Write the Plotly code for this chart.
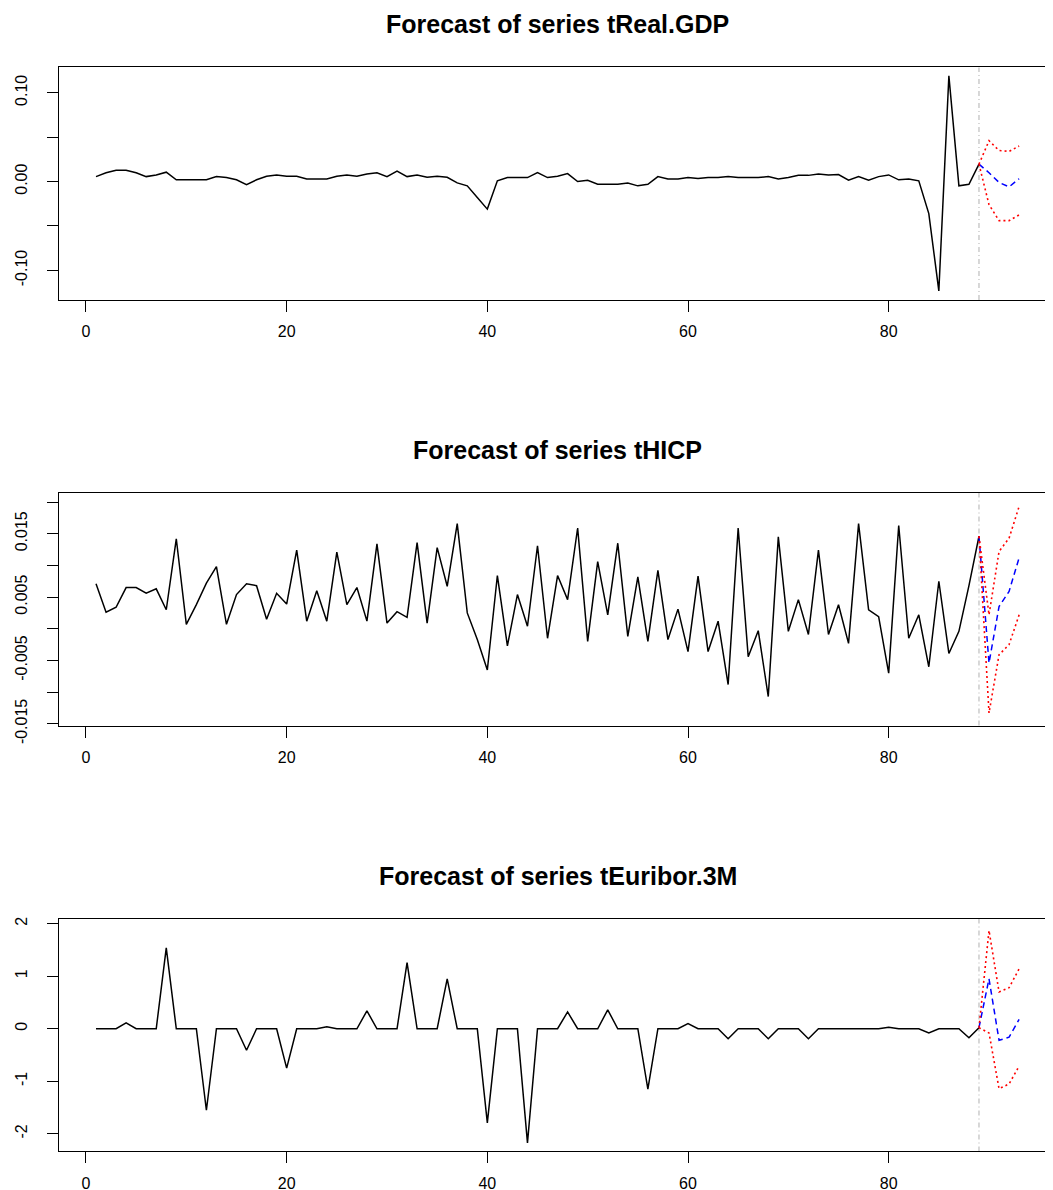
import plotly.graph_objects as go
from plotly.subplots import make_subplots

# ---------------- data ----------------
t_obs = list(range(1, 90))
t_fc = [89, 90, 91, 92, 93]

gdp = [0.0056, 0.010, 0.0128, 0.0128, 0.010, 0.0056, 0.0075, 0.0106, 0.002, 0.002,
       0.002, 0.002, 0.0056, 0.0045, 0.002, -0.0034, 0.002, 0.006, 0.0075, 0.006,
       0.006, 0.003, 0.003, 0.003, 0.006, 0.0075, 0.006, 0.0086, 0.010, 0.0056,
       0.0117, 0.0056, 0.0075, 0.0048, 0.006, 0.0048, -0.0015, -0.0048, -0.018, -0.031,
       0.0008, 0.0045, 0.0045, 0.0045, 0.010, 0.0045, 0.006, 0.009, 0.000, 0.0015,
       -0.003, -0.003, -0.003, -0.0015, -0.0048, -0.003, 0.0056, 0.003, 0.003, 0.0045,
       0.0034, 0.0045, 0.0045, 0.0056, 0.0045, 0.0045, 0.0045, 0.0056, 0.003, 0.0045,
       0.007, 0.007, 0.0086, 0.0075, 0.008, 0.0015, 0.0056, 0.0015, 0.0056, 0.0075,
       0.002, 0.003, 0.0008, -0.036, -0.123, 0.119, -0.0048, -0.003, 0.0196]
gdp_fc = [0.0196, 0.010, -0.001, -0.006, 0.0032]
gdp_lo = [0.0196, -0.026, -0.044, -0.044, -0.0375]
gdp_hi = [0.0196, 0.046, 0.035, 0.034, 0.040]

hicp = [0.0071, 0.0026, 0.0034, 0.0065, 0.0065, 0.0056, 0.0063, 0.0030, 0.0142, 0.0007,
        0.0038, 0.0072, 0.0098, 0.0007, 0.0054, 0.0071, 0.0068, 0.0015, 0.0056, 0.0039,
        0.0124, 0.0012, 0.0060, 0.0012, 0.0121, 0.0038, 0.0065, 0.0012, 0.0134, 0.0009,
        0.0027, 0.0018, 0.0136, 0.0009, 0.0128, 0.0067, 0.0166, 0.0025, -0.0017, -0.0065,
        0.0084, -0.0027, 0.0054, 0.0004, 0.0131, -0.0015, 0.0084, 0.0046, 0.0159, -0.0020,
        0.0106, 0.0022, 0.0135, -0.0012, 0.0082, -0.0020, 0.0092, -0.0017, 0.0031, -0.0036,
        0.0083, -0.0036, 0.0012, -0.0088, 0.0159, -0.0044, -0.0003, -0.0107, 0.0145, -0.0004,
        0.0046, -0.0009, 0.0124, -0.0009, 0.0038, -0.0023, 0.0166, 0.0030, 0.0019, -0.0070,
        0.0163, -0.0015, 0.0022, -0.0060, 0.0075, -0.0039, -0.0004, 0.0068, 0.0146]
hicp_fc = [0.0146, -0.0054, 0.0035, 0.0059, 0.0112]
hicp_lo = [0.0146, -0.0133, -0.0041, -0.0025, 0.0022]
hicp_hi = [0.0146, 0.0022, 0.0122, 0.0143, 0.0193]

euribor = [0.0, 0.0, 0.0, 0.11, 0.0, 0.0, 0.0, 1.54, 0.0, 0.0,
           0.0, -1.55, 0.0, 0.0, 0.0, -0.41, 0.0, 0.0, 0.0, -0.75,
           0.0, 0.0, 0.0, 0.04, 0.0, 0.0, 0.0, 0.34, 0.0, 0.0,
           0.0, 1.26, 0.0, 0.0, 0.0, 0.95, 0.0, 0.0, 0.0, -1.79,
           0.0, 0.0, 0.0, -2.17, 0.0, 0.0, 0.0, 0.32, 0.0, 0.0,
           0.0, 0.36, 0.0, 0.0, 0.0, -1.15, 0.0, 0.0, 0.0, 0.10,
           0.0, 0.0, 0.0, -0.19, 0.0, 0.0, 0.0, -0.19, 0.0, 0.0,
           0.0, -0.19, 0.0, 0.0, 0.0, 0.0, 0.0, 0.0, 0.0, 0.03,
           0.0, 0.0, 0.0, -0.08, 0.0, 0.0, 0.0, -0.17, 0.02]
eur_fc = [0.02, 0.95, -0.22, -0.16, 0.18]
eur_lo = [0.02, -0.08, -1.14, -1.05, -0.71]
eur_hi = [0.02, 1.87, 0.70, 0.78, 1.14]

titles = ["Forecast of series tReal.GDP", "Forecast of series tHICP",
          "Forecast of series tEuribor.3M"]
x_ticks = [0, 20, 40, 60, 80]
y_ticks = [
    ([-0.10, -0.05, 0.0, 0.05, 0.10], ["-0.10", "", "0.00", "", "0.10"]),
    ([-0.015, -0.010, -0.005, 0.0, 0.005, 0.010, 0.015, 0.020],
     ["-0.015", "", "-0.005", "", "0.005", "", "0.015", ""]),
    ([-2, -1, 0, 1, 2], ["-2", "-1", "0", "1", "2"]),
]
y_ranges = [[-0.1334, 0.1285], [-0.01528, 0.02142], [-2.335, 2.095]]

# ---------------- layout geometry (figure pixel coordinates) ----------------
W, H = 1037, 1202
panels_px = [(58.4, 295.0), (491.2, 727.7), (924.0, 1160.8)]
title_px = [13.9, 447.2, 880.5]

FONT = "Liberation Sans, Arial, sans-serif"

fig = make_subplots(rows=3, cols=1)

series = [(gdp, gdp_fc, gdp_lo, gdp_hi), (hicp, hicp_fc, hicp_lo, hicp_hi),
          (euribor, eur_fc, eur_lo, eur_hi)]

for k, (obs, fc, lo, hi) in enumerate(series):
    r = k + 1
    fig.add_trace(go.Scatter(x=t_obs, y=obs, mode="lines",
                             line=dict(color="black", width=1.5),
                             showlegend=False, hoverinfo="skip"), row=r, col=1)
    fig.add_trace(go.Scatter(x=t_fc, y=fc, mode="lines",
                             line=dict(color="#0000ff", width=1.5, dash="6px,4px"),
                             showlegend=False, hoverinfo="skip"), row=r, col=1)
    for band in (lo, hi):
        fig.add_trace(go.Scatter(x=t_fc, y=band, mode="lines",
                                 line=dict(color="#ff0000", width=1.6, dash="2px,3px"),
                                 showlegend=False, hoverinfo="skip"), row=r, col=1)
    sfx = "" if r == 1 else str(r)
    fig.add_shape(type="line", x0=89, x1=89, y0=0, y1=1,
                  xref="x" + sfx, yref="y" + sfx + " domain",
                  line=dict(color="#bebebe", width=1.2, dash="5px,3px,1px,3px"),
                  layer="below")

    top, bot = panels_px[k]
    dom = [1 - bot / H, 1 - top / H]
    fig.update_yaxes(row=r, col=1, domain=dom, range=y_ranges[k],
                     tickvals=y_ticks[k][0], ticktext=y_ticks[k][1],
                     tickangle=-90, ticks="outside", ticklen=11, tickwidth=1,
                     tickcolor="black", showline=True, linecolor="black",
                     linewidth=1, mirror=False, showgrid=False, zeroline=False,
                     tickfont=dict(family=FONT, size=16, color="black"),
                     ticklabelstandoff=14)
    fig.update_xaxes(row=r, col=1, range=[-2.69, 95.58], tickvals=x_ticks,
                     ticks="outside", ticklen=11, tickwidth=1, tickcolor="black",
                     showline=True, linecolor="black", linewidth=1, mirror=True,
                     showgrid=False, zeroline=False,
                     tickfont=dict(family=FONT, size=16, color="black"),
                     ticklabelstandoff=6)
    fig.add_annotation(text="<b>" + titles[k] + "</b>", xref="x" + sfx, x=47,
                       yref="paper", y=1 - title_px[k] / H, yanchor="middle",
                       xanchor="center", showarrow=False,
                       font=dict(family=FONT, size=25, color="black"))

fig.update_layout(width=W, height=H, margin=dict(l=51, r=0, t=0, b=0),
                  paper_bgcolor="white", plot_bgcolor="white",
                  font=dict(family=FONT, color="black"))

fig.write_html("out.html")
